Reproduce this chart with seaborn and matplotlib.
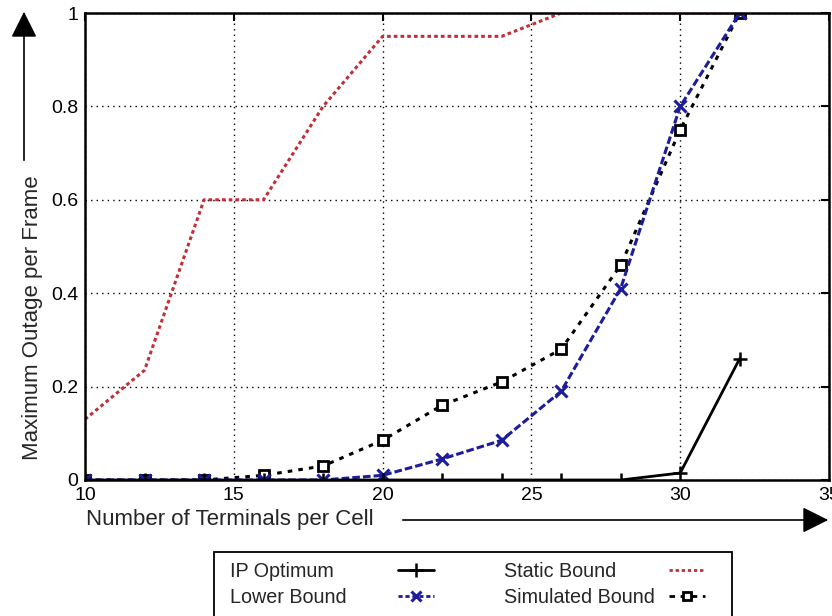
import numpy as np
import pandas as pd
import matplotlib
matplotlib.use("Agg")
import matplotlib.pyplot as plt
import matplotlib.patches as mpatches
import seaborn as sns
from matplotlib.lines import Line2D

terminals = [10, 12, 14, 16, 18, 20, 22, 24, 26, 28, 30, 32]
ip_optimum = [0, 0, 0, 0, 0, 0, 0, 0, 0, 0, 0.015, 0.26]
lower_bound = [0, 0, 0, 0, 0, 0.01, 0.045, 0.085, 0.19, 0.41, 0.80, 1.0]
static_bound = [0.13, 0.235, 0.60, 0.60, 0.80, 0.95, 0.95, 0.95, 1.0, 1.0, 1.0, 1.0]
simulated_bound = [0, 0, 0, 0.01, 0.03, 0.085, 0.16, 0.21, 0.28, 0.46, 0.75, 1.0]

xticks = [10, 15, 20, 25, 30, 35]
yticks = [0, 0.2, 0.4, 0.6, 0.8, 1.0]
ytick_labels = ["0", "0.2", "0.4", "0.6", "0.8", "1"]

sns.set_style("white")
plt.rcParams['font.family'] = ['Liberation Sans', 'DejaVu Sans']

W, H = 832, 616
fig = plt.figure(figsize=(W/100, H/100), dpi=100)
ax = fig.add_axes([85/W, 1-480/H, (829-85)/W, (480-13)/H])

red = "#c0303a"
blue = "#1c1c9c"
red_ls = (0, (1.2, 1.0))
sim_ls = (0, (1.5, 2.0))
blue_ls = (0, (2.5, 1.0))

sns.lineplot(x=terminals, y=static_bound, ax=ax, color=red, lw=2.2,
             linestyle=red_ls, marker=None)
sns.lineplot(x=terminals, y=simulated_bound, ax=ax, color="black", lw=2.2,
             linestyle=sim_ls, marker="s", markersize=7,
             markerfacecolor="white", markeredgecolor="black", markeredgewidth=2)
sns.lineplot(x=terminals, y=lower_bound, ax=ax, color=blue, lw=2.2,
             linestyle=blue_ls, marker="x", markersize=8,
             markeredgecolor=blue, markeredgewidth=2.2)
sns.lineplot(x=terminals, y=ip_optimum, ax=ax, color="black", lw=2.0,
             linestyle="-", marker="+", markersize=10,
             markeredgecolor="black", markeredgewidth=1.8)

ax.set_xlim(10, 35)
ax.set_ylim(0, 1)
ax.set_xticks(xticks)
ax.set_yticks(yticks)
ax.set_yticklabels(ytick_labels)
ax.grid(True, color="black", linestyle=(0, (1, 3)), lw=1)
ax.tick_params(direction="in", length=6, width=1.5, top=True, right=True,
               labelsize=14, pad=5, colors="black")
for sp in ax.spines.values():
    sp.set_visible(True)
    sp.set_color("black")
    sp.set_linewidth(1.8)
ax.set_xlabel("")
ax.set_ylabel("")

# axis labels with arrows
fig.text(86/W, 1-520/H, "Number of Terminals per Cell", fontsize=16,
         ha="left", va="center")
fig.add_artist(mpatches.FancyArrowPatch(
    (400/W, 1-520/H), (831/W, 1-520/H), transform=fig.transFigure,
    arrowstyle="-|>,head_length=8,head_width=4", color="black", lw=1.2,
    mutation_scale=2))
fig.text(33/W, 1-318/H, "Maximum Outage per Frame", fontsize=16,
         rotation=90, ha="center", va="center")
fig.add_artist(mpatches.FancyArrowPatch(
    (24/W, 1-163/H), (24/W, 1-9/H), transform=fig.transFigure,
    arrowstyle="-|>,head_length=8,head_width=4", color="black", lw=1.2,
    mutation_scale=2))

h_ip = Line2D([], [], color="black", lw=2, marker="+", markersize=10, markeredgewidth=1.8)
h_lb = Line2D([], [], color=blue, lw=2, linestyle=(0, (1.5, 1.0)), marker="x",
              markersize=7, markeredgewidth=2.2)
h_st = Line2D([], [], color=red, lw=2, linestyle=red_ls)
h_sim = Line2D([], [], color="black", lw=2, linestyle=(0, (2, 2)), marker="s",
               markersize=6, markerfacecolor="white", markeredgewidth=2)
blank = Line2D([], [], alpha=0)

fs = 14.2
top = 1 - 562/H
common = dict(loc="upper left", ncol=1, frameon=False, fontsize=fs,
              borderpad=0, labelspacing=0.35, borderaxespad=0)
# label columns
l1 = fig.legend([blank, blank], ["IP Optimum", "Lower Bound"], handlelength=0,
                handletextpad=0, bbox_to_anchor=(230/W, top), **common)
l2 = fig.legend([blank, blank], ["Static Bound", "Simulated Bound"], handlelength=0,
                handletextpad=0, bbox_to_anchor=(504/W, top), **common)
# handle columns
l3 = fig.legend([h_ip, h_lb], ["", ""], handlelength=1.8, handletextpad=0,
                bbox_to_anchor=(398/W, top), **common)
l4 = fig.legend([h_st, h_sim], ["", ""], handlelength=1.8, handletextpad=0,
                bbox_to_anchor=(669/W, top), **common)
fig.add_artist(mpatches.Rectangle((214/W, -0.05), (732-214)/W, 0.05+(616-552)/H,
                                  transform=fig.transFigure, fill=False,
                                  edgecolor="black", lw=1.3))

fig.savefig("out.png", dpi=100)
